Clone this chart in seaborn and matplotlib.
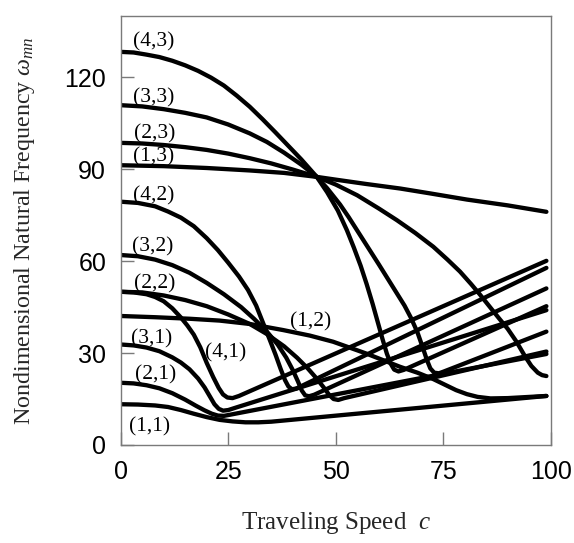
import matplotlib
matplotlib.use("Agg")
import matplotlib.pyplot as plt
import pandas as pd
import seaborn as sns

# Natural frequency branches (m, n) against traveling speed c
c_11 = [0, 4, 8, 11, 14, 17, 20, 23, 26, 29, 32, 35, 99]
w_11 = [13.3, 13.2, 12.9, 12.4, 11.4, 10.2, 9.1, 8.2, 7.7, 7.4, 7.4, 7.6, 16.0]

c_21 = [0, 3, 6, 9, 12, 15, 17.5, 19.5, 21.2, 22.6, 24, 25.5, 99]
w_21 = [20.3, 20.1, 19.5, 18.5, 16.9, 14.8, 12.8, 11.3, 10.2, 9.6, 9.5, 9.9, 29.7]

c_31 = [0, 3, 6, 9, 12, 14, 16, 18, 19.5, 20.8, 21.8, 22.8, 23.8, 25, 27, 99]
w_31 = [32.8, 32.5, 31.8, 30.6, 28.6, 26.9, 24.7, 21.7, 18.8, 15.7, 13.3, 11.8, 11.2, 11.4, 12.3, 44.0]

c_41 = [0, 3, 6, 8, 10, 12, 14, 15.5, 17, 18.5, 20, 21.5, 22.8, 23.8, 24.8, 26, 27.5, 99]
w_41 = [50.0, 49.8, 49.2, 48.3, 46.9, 44.6, 41.6, 39.0, 36.0, 31.9, 26.8, 22.2, 18.6, 16.5, 15.5, 15.3, 16.0, 60.1]

c_12 = [0, 8, 16, 23, 30, 37.8, 44, 49.4, 57, 61, 65, 69, 72.7, 75.5, 78, 80.5, 83, 86, 90, 99]
w_12 = [42.1, 41.7, 41.2, 40.6, 39.5, 37.5, 35.7, 33.7, 29.9, 27.7, 25.5, 23.6, 21.5, 19.6, 17.9, 16.6, 15.7, 15.2, 15.3, 16.0]

c_22 = [0, 5, 10, 15, 20, 25, 30, 34, 38, 41, 43.5, 45.5, 47.2, 48.5, 49.5, 50.6, 52, 99]
w_22 = [50.0, 49.8, 48.8, 47.3, 45.3, 42.6, 39.5, 36.2, 32.2, 28.5, 25.0, 21.8, 18.8, 16.3, 15.0, 14.7, 15.3, 30.5]

c_32 = [0, 4, 8, 12, 16, 20, 24, 28, 31, 34, 36.5, 38.5, 40, 41.2, 42.1, 42.9, 43.8, 45, 99]
w_32 = [62.0, 61.6, 60.5, 58.7, 56.2, 52.9, 49.2, 45.0, 41.2, 37.0, 32.8, 28.5, 24.5, 20.8, 17.8, 16.2, 15.9, 16.4, 51.1]

c_42 = [0, 4, 8, 11, 14, 17, 20, 22.6, 25, 27.5, 29.6, 31.5, 33.2, 34.7, 36, 37.2, 38.2, 39, 39.8, 40.8, 99]
w_42 = [79.4, 79.0, 77.9, 76.2, 74.2, 71.4, 67.5, 63.6, 59.5, 55.0, 50.6, 45.5, 39.5, 34.2, 29.5, 24.8, 21.2, 19.1, 18.2, 18.4, 57.8]

c_13 = [0, 10, 20, 30, 38, 45.6, 50, 57, 65, 72, 80.5, 90, 99]
w_13 = [91.3, 91.0, 90.4, 89.6, 88.8, 87.5, 86.6, 85.2, 83.7, 82.1, 80.1, 78.2, 76.1]

c_23 = [0, 5, 10, 15, 20, 25, 30, 35, 40, 45.6, 50, 55, 60, 64.2, 68.5, 72.7, 76, 78.9,
        81.5, 83.6, 86, 88, 90, 92, 94, 95.5, 97, 98, 99]
w_23 = [98.6, 98.4, 97.9, 97.2, 96.3, 95.1, 93.6, 91.9, 89.9, 87.5, 85.0, 81.5, 77.2, 73.4,
        69.2, 64.7, 60.5, 56.6, 52.5, 49.0, 44.8, 41.3, 37.9, 33.8, 29.0, 25.8, 23.6, 22.8, 22.5]

c_33 = [0, 5, 10, 15, 20, 25, 30, 34, 38, 42, 45.6, 48, 51, 53, 55, 57.5, 60, 62, 64, 66,
        67.5, 69, 70.2, 71.2, 72, 72.9, 74, 75, 99]
w_33 = [110.9, 110.5, 109.6, 108.4, 106.9, 104.6, 101.7, 98.9, 95.4, 91.5, 87.5, 83.8, 78.5,
        74.4, 70.0, 64.5, 59.0, 54.5, 50.0, 45.5, 41.5, 36.8, 32.0, 27.8, 25.0, 23.6, 23.4, 23.9, 37.0]

c_43 = [0, 3, 6, 9, 12, 15, 18, 21, 24, 27, 30, 33, 36, 39, 42, 45.6, 48, 50.5, 52.6, 54.2,
        55.8, 57.2, 58.6, 59.8, 60.9, 61.9, 62.8, 63.6, 64.6, 65.8, 99]
w_43 = [128.3, 128.1, 127.4, 126.6, 125.4, 123.9, 122.1, 119.9, 117.3, 114.0, 110.4, 106.3,
        102.0, 97.6, 93.2, 87.5, 82.5, 76.5, 70.1, 64.5, 58.5, 52.5, 46.0, 40.0, 34.5, 29.8,
        26.5, 24.6, 24.0, 24.5, 45.3]

# Mode tags and where they sit
label_text = ["(4,3)", "(3,3)", "(2,3)", "(1,3)", "(4,2)", "(3,2)", "(2,2)",
              "(1,2)", "(3,1)", "(4,1)", "(2,1)", "(1,1)"]
label_c = [7.6, 7.7, 8.0, 7.6, 7.6, 7.4, 7.8, 44.1, 7.2, 24.5, 8.2, 6.8]
label_w = [131.5, 113.3, 101.4, 93.9, 81.2, 64.6, 52.7, 40.3, 34.7, 30.2, 22.8, 5.9]

x_ticks = [0, 25, 50, 75, 100]
y_ticks = [0, 30, 60, 90, 120]

branches = {
    "(1,1)": (c_11, w_11), "(2,1)": (c_21, w_21), "(3,1)": (c_31, w_31),
    "(4,1)": (c_41, w_41), "(1,2)": (c_12, w_12), "(2,2)": (c_22, w_22),
    "(3,2)": (c_32, w_32), "(4,2)": (c_42, w_42), "(1,3)": (c_13, w_13),
    "(2,3)": (c_23, w_23), "(3,3)": (c_33, w_33), "(4,3)": (c_43, w_43),
}
df = pd.concat(
    [pd.DataFrame({"c": c, "omega": w, "mode": name}) for name, (c, w) in branches.items()],
    ignore_index=True,
)

sns.set_style("white")
plt.rcParams["font.family"] = ["Liberation Sans", "DejaVu Sans"]
plt.rcParams["mathtext.fontset"] = "custom"
plt.rcParams["mathtext.rm"] = "Liberation Serif"
plt.rcParams["mathtext.it"] = "Liberation Serif:italic"

fig = plt.figure(figsize=(5.74, 5.43), dpi=100)
ax = fig.add_axes([0.2103, 0.1805, 0.7491, 0.79])

sns.lineplot(data=df, x="c", y="omega", units="mode", estimator=None, sort=False,
             color="black", lw=3.1, legend=False, ax=ax,
             solid_joinstyle="round", solid_capstyle="round")

for txt, cx, wy in zip(label_text, label_c, label_w):
    ax.text(cx, wy, txt, ha="center", va="center", fontsize=15.5,
            family="Liberation Serif", color="black")

ax.set_xlim(0, 100)
ax.set_ylim(0, 140)
ax.set_xticks(x_ticks)
ax.set_yticks(y_ticks)
ax.set_xticklabels([str(v) for v in x_ticks])
ax.set_yticklabels([str(v) for v in y_ticks])

grey = "#7a7a7a"
for side in ax.spines.values():
    side.set_color(grey)
    side.set_linewidth(1.0)
ax.tick_params(axis="both", direction="in", length=9.5, width=1.0, color=grey,
               labelsize=18, labelcolor="black", bottom=True, left=True,
               top=False, right=False)
ax.tick_params(axis="x", pad=10.5)
ax.tick_params(axis="y", pad=10.5)

ax.set_xlabel(r"Traveling Speed  $c$", fontsize=18, family="Liberation Serif", labelpad=19)
ax.set_ylabel(r"Nondimensional Natural Frequency $\omega_{mn}$", fontsize=17.3,
              family="Liberation Serif", labelpad=20)

fig.savefig("out.png", dpi=100)
